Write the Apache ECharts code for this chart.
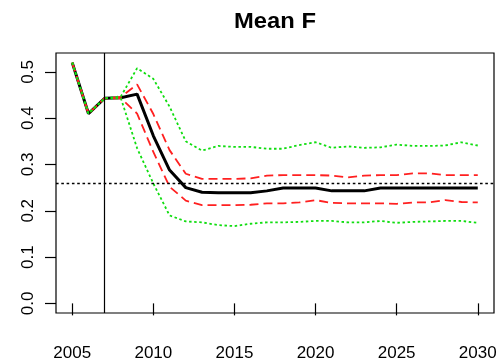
<!DOCTYPE html>
<html>
<head>
<meta charset="utf-8">
<script src="https://cdn.jsdelivr.net/npm/echarts@6/dist/echarts.min.js"></script>
<style>html,body{margin:0;padding:0;background:#fff;}#c{width:500px;height:363px;}</style>
</head>
<body>
<div id="c"></div>
<script>
const titleText = 'Mean F';
const years = [2005,2006,2007,2008,2009,2010,2011,2012,2013,2014,2015,2016,2017,2018,2019,2020,2021,2022,2023,2024,2025,2026,2027,2028,2029,2030];
const meanF   = [0.520,0.410,0.443,0.444,0.452,0.362,0.288,0.250,0.240,0.239,0.239,0.239,0.243,0.249,0.249,0.249,0.243,0.243,0.243,0.249,0.249,0.249,0.249,0.249,0.249,0.249];
const redUp   = [0.520,0.410,0.443,0.446,0.473,0.409,0.331,0.280,0.269,0.269,0.269,0.270,0.276,0.277,0.277,0.277,0.276,0.272,0.276,0.277,0.277,0.281,0.281,0.277,0.277,0.277];
const redLo   = [0.520,0.410,0.443,0.443,0.410,0.327,0.252,0.222,0.212,0.212,0.212,0.213,0.216,0.216,0.218,0.223,0.217,0.216,0.216,0.216,0.215,0.218,0.218,0.223,0.219,0.218];
const greenUp = [0.520,0.410,0.443,0.447,0.508,0.485,0.425,0.350,0.330,0.340,0.338,0.338,0.334,0.334,0.342,0.348,0.336,0.339,0.336,0.337,0.343,0.340,0.340,0.341,0.348,0.341];
const greenLo = [0.520,0.410,0.443,0.443,0.335,0.259,0.190,0.177,0.175,0.169,0.167,0.172,0.175,0.175,0.176,0.178,0.178,0.175,0.175,0.178,0.174,0.176,0.177,0.178,0.178,0.174];
const refLevel = 0.258;
const refYear = 2007;
const xTicks = [2005,2010,2015,2020,2025,2030];
const yTicks = [0.0,0.1,0.2,0.3,0.4,0.5];
const xRange = [2004, 2031];
const yRange = [-0.0208, 0.5408];

const pairs = arr => years.map((y,i)=>[y,arr[i]]);
const font = 'Liberation Sans, Arial, sans-serif';

const chart = echarts.init(document.getElementById('c'), null, {renderer:'canvas'});
chart.setOption({
  animation:false,
  backgroundColor:'#fff',
  graphic:[{type:'text', x:275, y:21.5, scaleX:1.08, style:{text:titleText, font:'bold 22px '+font, fill:'#000', textAlign:'center', textVerticalAlign:'middle'}}],
  grid:{left:56, right:6, top:53, bottom:50, show:true, borderColor:'#000', borderWidth:1.2, backgroundColor:'transparent'},
  xAxis:{type:'value', min:xRange[0], max:xRange[1],
    axisLine:{show:false}, splitLine:{show:false},
    axisTick:{show:true, inside:false, length:12, customValues:xTicks, lineStyle:{color:'#000', width:1.2}},
    axisLabel:{customValues:xTicks, margin:32, color:'#000', fontSize:17, fontFamily:font, formatter:v=>String(v)}},
  yAxis:{type:'value', min:yRange[0], max:yRange[1],
    axisLine:{show:false}, splitLine:{show:false},
    axisTick:{show:true, inside:false, length:11, customValues:yTicks, lineStyle:{color:'#000', width:1.2}},
    axisLabel:{customValues:yTicks, rotate:90, margin:19, color:'#000', fontSize:17, fontFamily:font, formatter:v=>v.toFixed(1)}},
  series:[
    {type:'line', data:pairs(meanF), symbol:'none', lineStyle:{color:'#000', width:3}, z:2,
      markLine:{silent:true, symbol:'none', label:{show:false}, animation:false,
        data:[
          {yAxis:refLevel, lineStyle:{color:'#000', width:1.3, type:[2.6,2.7]}},
          {xAxis:refYear, lineStyle:{color:'#000', width:1.2, type:'solid'}}
        ]}},
    {type:'line', data:pairs(redUp), symbol:'none', lineStyle:{color:'#ff2020', width:1.8, type:[9,5]}, z:3},
    {type:'line', data:pairs(redLo), symbol:'none', lineStyle:{color:'#ff2020', width:1.8, type:[9,5]}, z:3},
    {type:'line', data:pairs(greenUp), symbol:'none', lineStyle:{color:'#10dd10', width:1.8, type:[2.5,2.6]}, z:4},
    {type:'line', data:pairs(greenLo), symbol:'none', lineStyle:{color:'#10dd10', width:1.8, type:[2.5,2.6]}, z:4}
  ]
});
</script>
</body>
</html>
